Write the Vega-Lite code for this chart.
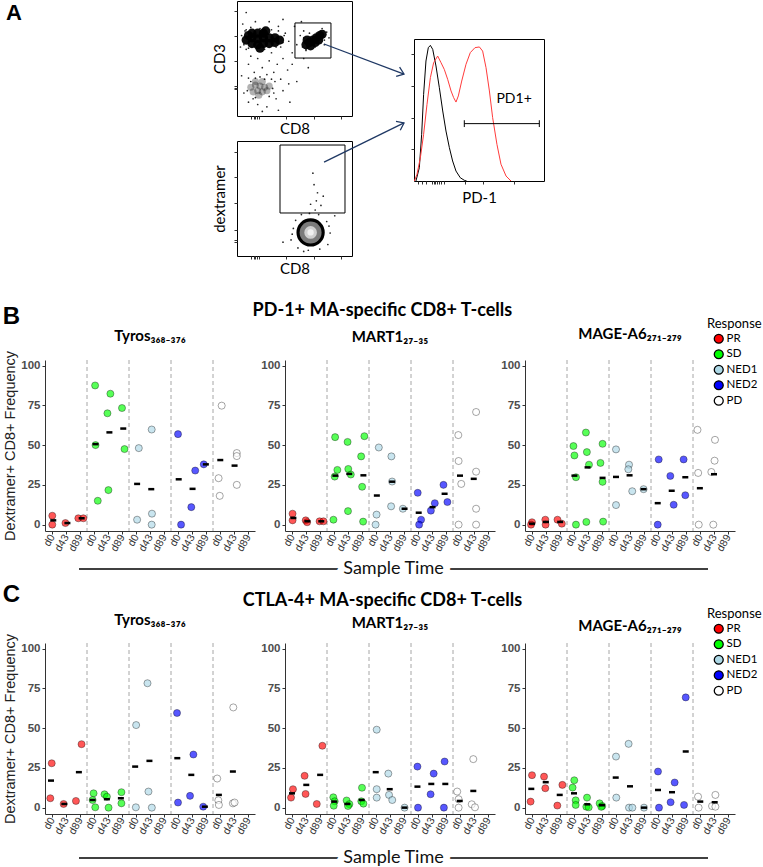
{
"$schema": "https://vega.github.io/schema/vega-lite/v6.json",
"background": "white",
"padding": {"left": 2, "top": 0, "right": 0, "bottom": 0},
"config": {"view": {"stroke": null}, "axis": {"grid": false, "domainColor": "#333", "tickColor": "#333"}, "title": {"color": "black"}},
"datasets": {
"seps": [{"x": 2.5}, {"x": 5.5}, {"x": 8.5}, {"x": 11.5}],
"pts": [
{"p":"B1","r":"PR","x":0.02,"v":5.6},{"p":"B1","r":"PR","x":0.02,"v":0},{"p":"B1","r":"PR","x":0.96,"v":1},{"p":"B1","r":"PR","x":1.88,"v":4},{"p":"B1","r":"PR","x":2.24,"v":4},
{"p":"B1","r":"SD","x":3.08,"v":87.5},{"p":"B1","r":"SD","x":3.11,"v":50},{"p":"B1","r":"SD","x":3.27,"v":15},{"p":"B1","r":"SD","x":4.17,"v":82.3},{"p":"B1","r":"SD","x":3.96,"v":70},{"p":"B1","r":"SD","x":4.03,"v":21.7},{"p":"B1","r":"SD","x":5.0,"v":73.3},{"p":"B1","r":"SD","x":5.18,"v":47.5},
{"p":"B1","r":"NED1","x":6.2,"v":48.1},{"p":"B1","r":"NED1","x":6.08,"v":3.1},{"p":"B1","r":"NED1","x":7.12,"v":59.8},{"p":"B1","r":"NED1","x":7.14,"v":6.9},{"p":"B1","r":"NED1","x":7.12,"v":0},
{"p":"B1","r":"NED2","x":9.0,"v":56.9},{"p":"B1","r":"NED2","x":9.22,"v":0},{"p":"B1","r":"NED2","x":9.95,"v":11},{"p":"B1","r":"NED2","x":10.23,"v":34},{"p":"B1","r":"NED2","x":10.84,"v":37.9},
{"p":"B1","r":"PD","x":12.12,"v":74.8},{"p":"B1","r":"PD","x":11.9,"v":29.2},{"p":"B1","r":"PD","x":11.98,"v":18.1},{"p":"B1","r":"PD","x":13.2,"v":45},{"p":"B1","r":"PD","x":13.2,"v":43.1},{"p":"B1","r":"PD","x":13.2,"v":25},
{"p":"B2","r":"PR","x":0.04,"v":6.9},{"p":"B2","r":"PR","x":0.04,"v":2.7},{"p":"B2","r":"PR","x":0.98,"v":2.7},{"p":"B2","r":"PR","x":1.08,"v":1.5},{"p":"B2","r":"PR","x":1.97,"v":2.1},{"p":"B2","r":"PR","x":2.25,"v":2.1},
{"p":"B2","r":"SD","x":3.08,"v":55},{"p":"B2","r":"SD","x":3.24,"v":34.4},{"p":"B2","r":"SD","x":3.05,"v":30.2},{"p":"B2","r":"SD","x":2.96,"v":3.1},{"p":"B2","r":"SD","x":3.97,"v":52},{"p":"B2","r":"SD","x":4.02,"v":35},{"p":"B2","r":"SD","x":4.2,"v":31.5},{"p":"B2","r":"SD","x":4.0,"v":8.5},{"p":"B2","r":"SD","x":5.17,"v":55.6},{"p":"B2","r":"SD","x":4.94,"v":42.9},{"p":"B2","r":"SD","x":5.01,"v":23.8},{"p":"B2","r":"SD","x":5.08,"v":1.9},
{"p":"B2","r":"NED1","x":6.2,"v":48.5},{"p":"B2","r":"NED1","x":6.04,"v":6.3},{"p":"B2","r":"NED1","x":5.97,"v":0},{"p":"B2","r":"NED1","x":7.1,"v":42.9},{"p":"B2","r":"NED1","x":7.15,"v":27.1},{"p":"B2","r":"NED1","x":7.08,"v":11.5},{"p":"B2","r":"NED1","x":7.92,"v":10},
{"p":"B2","r":"NED2","x":8.98,"v":20},{"p":"B2","r":"NED2","x":9.22,"v":3.1},{"p":"B2","r":"NED2","x":9.08,"v":0},{"p":"B2","r":"NED2","x":9.92,"v":8.8},{"p":"B2","r":"NED2","x":10.2,"v":13.5},{"p":"B2","r":"NED2","x":10.82,"v":25},{"p":"B2","r":"NED2","x":11.1,"v":14.2},
{"p":"B2","r":"PD","x":11.88,"v":56.3},{"p":"B2","r":"PD","x":11.9,"v":40},{"p":"B2","r":"PD","x":12.09,"v":25.6},{"p":"B2","r":"PD","x":11.9,"v":0},{"p":"B2","r":"PD","x":13.15,"v":70.8},{"p":"B2","r":"PD","x":13.15,"v":33.3},{"p":"B2","r":"PD","x":13.15,"v":10},{"p":"B2","r":"PD","x":13.15,"v":0},
{"p":"B3","r":"PR","x":0,"v":1.5},{"p":"B3","r":"PR","x":-0.07,"v":0},{"p":"B3","r":"PR","x":0.95,"v":3.1},{"p":"B3","r":"PR","x":0.97,"v":0},{"p":"B3","r":"PR","x":1.82,"v":3.1},{"p":"B3","r":"PR","x":2.13,"v":0.6},
{"p":"B3","r":"SD","x":2.96,"v":49.4},{"p":"B3","r":"SD","x":3.03,"v":43.5},{"p":"B3","r":"SD","x":3.14,"v":29.8},{"p":"B3","r":"SD","x":3.14,"v":0},{"p":"B3","r":"SD","x":3.85,"v":57.9},{"p":"B3","r":"SD","x":3.92,"v":45.6},{"p":"B3","r":"SD","x":4.07,"v":37.7},{"p":"B3","r":"SD","x":3.88,"v":1.7},{"p":"B3","r":"SD","x":5.04,"v":50.8},{"p":"B3","r":"SD","x":4.89,"v":38.8},{"p":"B3","r":"SD","x":5.04,"v":26.9},{"p":"B3","r":"SD","x":5.08,"v":1.9},
{"p":"B3","r":"NED1","x":6.0,"v":47.3},{"p":"B3","r":"NED1","x":6.0,"v":12.3},{"p":"B3","r":"NED1","x":6.93,"v":37.7},{"p":"B3","r":"NED1","x":6.88,"v":34.8},{"p":"B3","r":"NED1","x":7.16,"v":21},{"p":"B3","r":"NED1","x":7.97,"v":22.3},
{"p":"B3","r":"NED2","x":9.05,"v":41},{"p":"B3","r":"NED2","x":8.98,"v":0},{"p":"B3","r":"NED2","x":9.88,"v":30.6},{"p":"B3","r":"NED2","x":10.12,"v":12.5},{"p":"B3","r":"NED2","x":10.83,"v":41},{"p":"B3","r":"NED2","x":10.95,"v":18.5},
{"p":"B3","r":"PD","x":11.82,"v":59.6},{"p":"B3","r":"PD","x":11.87,"v":32.5},{"p":"B3","r":"PD","x":11.91,"v":0},{"p":"B3","r":"PD","x":13.07,"v":53.3},{"p":"B3","r":"PD","x":13.04,"v":40.2},{"p":"B3","r":"PD","x":12.81,"v":33.1},{"p":"B3","r":"PD","x":12.95,"v":0},
{"p":"C1","r":"PR","x":-0.02,"v":27.9},{"p":"C1","r":"PR","x":-0.12,"v":5.9},{"p":"C1","r":"PR","x":0.83,"v":2.3},{"p":"C1","r":"PR","x":2.11,"v":39.9},{"p":"C1","r":"PR","x":1.71,"v":4.2},
{"p":"C1","r":"SD","x":2.97,"v":9},{"p":"C1","r":"SD","x":2.9,"v":4.8},{"p":"C1","r":"SD","x":3.09,"v":0.2},{"p":"C1","r":"SD","x":3.75,"v":8.4},{"p":"C1","r":"SD","x":3.92,"v":6.9},{"p":"C1","r":"SD","x":4.04,"v":0},{"p":"C1","r":"SD","x":4.96,"v":9.7},{"p":"C1","r":"SD","x":4.96,"v":2.7},
{"p":"C1","r":"NED1","x":6.01,"v":51.9},{"p":"C1","r":"NED1","x":5.99,"v":0.2},{"p":"C1","r":"NED1","x":6.82,"v":78.2},{"p":"C1","r":"NED1","x":6.89,"v":10.1},{"p":"C1","r":"NED1","x":7.13,"v":0},
{"p":"C1","r":"NED2","x":8.93,"v":59.5},{"p":"C1","r":"NED2","x":9.0,"v":3.2},{"p":"C1","r":"NED2","x":10.1,"v":33.4},{"p":"C1","r":"NED2","x":9.86,"v":7.4},{"p":"C1","r":"NED2","x":10.8,"v":0.6},
{"p":"C1","r":"PD","x":11.8,"v":18.3},{"p":"C1","r":"PD","x":11.88,"v":4.6},{"p":"C1","r":"PD","x":11.92,"v":1.7},{"p":"C1","r":"PD","x":12.95,"v":63},{"p":"C1","r":"PD","x":12.92,"v":2.7},{"p":"C1","r":"PD","x":13.04,"v":3.2},
{"p":"C2","r":"PR","x":0.07,"v":11.6},{"p":"C2","r":"PR","x":-0.07,"v":6.3},{"p":"C2","r":"PR","x":0.9,"v":20},{"p":"C2","r":"PR","x":0.97,"v":8.6},{"p":"C2","r":"PR","x":2.17,"v":38.9},{"p":"C2","r":"PR","x":1.77,"v":2.3},
{"p":"C2","r":"SD","x":2.95,"v":6.5},{"p":"C2","r":"SD","x":3.05,"v":4},{"p":"C2","r":"SD","x":2.98,"v":1.2},{"p":"C2","r":"SD","x":3.9,"v":4.5},{"p":"C2","r":"SD","x":4.1,"v":2.2},{"p":"C2","r":"SD","x":4.0,"v":1},{"p":"C2","r":"SD","x":5.0,"v":12.5},{"p":"C2","r":"SD","x":4.95,"v":4},{"p":"C2","r":"SD","x":5.1,"v":2.5},
{"p":"C2","r":"NED1","x":6.05,"v":49},{"p":"C2","r":"NED1","x":6.05,"v":11.6},{"p":"C2","r":"NED1","x":6.05,"v":6.3},{"p":"C2","r":"NED1","x":6.88,"v":21.4},{"p":"C2","r":"NED1","x":6.93,"v":8},{"p":"C2","r":"NED1","x":7.16,"v":4.8},{"p":"C2","r":"NED1","x":8.04,"v":0},
{"p":"C2","r":"NED2","x":8.96,"v":25.8},{"p":"C2","r":"NED2","x":9.0,"v":0},{"p":"C2","r":"NED2","x":10.12,"v":21.4},{"p":"C2","r":"NED2","x":9.9,"v":8.4},{"p":"C2","r":"NED2","x":10.9,"v":29},{"p":"C2","r":"NED2","x":10.85,"v":0},
{"p":"C2","r":"PD","x":11.8,"v":10.1},{"p":"C2","r":"PD","x":11.9,"v":5.3},{"p":"C2","r":"PD","x":11.9,"v":0},{"p":"C2","r":"PD","x":12.95,"v":30.5},{"p":"C2","r":"PD","x":12.84,"v":2.1},{"p":"C2","r":"PD","x":13.07,"v":0.2},
{"p":"C3","r":"PR","x":-0.1,"v":3.8},{"p":"C3","r":"PR","x":0,"v":20.4},{"p":"C3","r":"PR","x":0.86,"v":19.5},{"p":"C3","r":"PR","x":0.95,"v":12.2},{"p":"C3","r":"PR","x":2.17,"v":14.3},{"p":"C3","r":"PR","x":1.81,"v":1.3},
{"p":"C3","r":"SD","x":3.02,"v":17.2},{"p":"C3","r":"SD","x":2.9,"v":12.6},{"p":"C3","r":"SD","x":3.12,"v":4.6},{"p":"C3","r":"SD","x":3.12,"v":1.7},{"p":"C3","r":"SD","x":3.93,"v":6.3},{"p":"C3","r":"SD","x":3.88,"v":0.6},{"p":"C3","r":"SD","x":4.05,"v":0.2},{"p":"C3","r":"SD","x":4.83,"v":2.7},{"p":"C3","r":"SD","x":5.02,"v":1},{"p":"C3","r":"SD","x":4.95,"v":0.5},
{"p":"C3","r":"NED1","x":6.0,"v":32.1},{"p":"C3","r":"NED1","x":6.02,"v":6.3},{"p":"C3","r":"NED1","x":6.9,"v":40.1},{"p":"C3","r":"NED1","x":6.93,"v":0},{"p":"C3","r":"NED1","x":7.17,"v":0},{"p":"C3","r":"NED1","x":8.0,"v":0},
{"p":"C3","r":"NED2","x":9.0,"v":22.7},{"p":"C3","r":"NED2","x":9.07,"v":0},{"p":"C3","r":"NED2","x":10.19,"v":15.8},{"p":"C3","r":"NED2","x":9.9,"v":3.4},{"p":"C3","r":"NED2","x":10.98,"v":69.3},{"p":"C3","r":"NED2","x":10.86,"v":1.7},
{"p":"C3","r":"PD","x":11.86,"v":6.9},{"p":"C3","r":"PD","x":11.9,"v":0},{"p":"C3","r":"PD","x":13.1,"v":8},{"p":"C3","r":"PD","x":12.86,"v":1},{"p":"C3","r":"PD","x":13.1,"v":0.6}
],
"means": [
{"p":"B1","x":0.09,"v":2.7},{"p":"B1","x":1.1,"v":1},{"p":"B1","x":2.12,"v":4},{"p":"B1","x":3.11,"v":50.6},{"p":"B1","x":4.1,"v":58},{"p":"B1","x":5.09,"v":60.4},{"p":"B1","x":6.08,"v":25.6},{"p":"B1","x":7.09,"v":22.3},{"p":"B1","x":9.05,"v":28.5},{"p":"B1","x":10.04,"v":22.5},{"p":"B1","x":10.99,"v":37.9},{"p":"B1","x":12.02,"v":40.6},{"p":"B1","x":13.04,"v":37.1},
{"p":"B2","x":0.1,"v":4.2},{"p":"B2","x":1.1,"v":2.1},{"p":"B2","x":2.09,"v":2.1},{"p":"B2","x":3.1,"v":30.8},{"p":"B2","x":4.09,"v":31.9},{"p":"B2","x":5.1,"v":31},{"p":"B2","x":6.06,"v":18.3},{"p":"B2","x":7.15,"v":27},{"p":"B2","x":8.04,"v":10},{"p":"B2","x":9.05,"v":7.5},{"p":"B2","x":10.04,"v":11},{"p":"B2","x":10.9,"v":19.4},{"p":"B2","x":12.0,"v":30.8},{"p":"B2","x":12.98,"v":28.8},
{"p":"B3","x":0,"v":0.6},{"p":"B3","x":1.0,"v":1.7},{"p":"B3","x":2.01,"v":1.7},{"p":"B3","x":3.03,"v":30.8},{"p":"B3","x":3.97,"v":36},{"p":"B3","x":5.04,"v":29.4},{"p":"B3","x":6.0,"v":30},{"p":"B3","x":6.97,"v":31},{"p":"B3","x":7.97,"v":22.3},{"p":"B3","x":8.98,"v":13.5},{"p":"B3","x":9.98,"v":21.3},{"p":"B3","x":10.95,"v":29.8},{"p":"B3","x":11.99,"v":22.9},{"p":"B3","x":13.0,"v":31.7},
{"p":"C1","x":-0.07,"v":17},{"p":"C1","x":0.88,"v":2.3},{"p":"C1","x":1.92,"v":22.3},{"p":"C1","x":2.9,"v":4.8},{"p":"C1","x":3.92,"v":5.3},{"p":"C1","x":4.92,"v":5.9},{"p":"C1","x":5.94,"v":25.8},{"p":"C1","x":6.96,"v":29.4},{"p":"C1","x":8.95,"v":31.1},{"p":"C1","x":9.95,"v":20.6},{"p":"C1","x":10.92,"v":0.6},{"p":"C1","x":11.92,"v":8},{"p":"C1","x":12.92,"v":22.7},
{"p":"C2","x":0.0,"v":9},{"p":"C2","x":1.02,"v":14.3},{"p":"C2","x":2.01,"v":20.6},{"p":"C2","x":3.02,"v":3.8},{"p":"C2","x":3.95,"v":2.3},{"p":"C2","x":4.98,"v":4.8},{"p":"C2","x":5.98,"v":22.3},{"p":"C2","x":6.98,"v":11.6},{"p":"C2","x":8.04,"v":0},{"p":"C2","x":8.96,"v":13.2},{"p":"C2","x":9.95,"v":14.9},{"p":"C2","x":10.95,"v":14.9},{"p":"C2","x":11.98,"v":4.2},{"p":"C2","x":12.95,"v":10.5},
{"p":"C3","x":-0.05,"v":11.8},{"p":"C3","x":0.98,"v":16},{"p":"C3","x":1.98,"v":8},{"p":"C3","x":3.0,"v":9},{"p":"C3","x":3.95,"v":2.1},{"p":"C3","x":5.0,"v":1.5},{"p":"C3","x":5.98,"v":18.9},{"p":"C3","x":7.0,"v":13.4},{"p":"C3","x":8.0,"v":0},{"p":"C3","x":9.0,"v":11.1},{"p":"C3","x":10.0,"v":9.7},{"p":"C3","x":10.98,"v":35.3},{"p":"C3","x":12.02,"v":3.8},{"p":"C3","x":13.05,"v":3.4}
],
"flow1": [
{"k":"core","x":8,"y":66},{"k":"core","x":13,"y":63},{"k":"core","x":13,"y":68},{"k":"core","x":13,"y":72},{"k":"core","x":18,"y":62},{"k":"core","x":18,"y":67},{"k":"core","x":18,"y":72},{"k":"core","x":23,"y":63},{"k":"core","x":23,"y":68},{"k":"core","x":23,"y":72},{"k":"core","x":28,"y":63},{"k":"core","x":28,"y":68},{"k":"core","x":33,"y":64},{"k":"core","x":33,"y":68},{"k":"core","x":37,"y":66},{"k":"core","x":10,"y":70},{"k":"core","x":25,"y":74},{"k":"core","x":20,"y":59},
{"k":"core","x":60,"y":62},{"k":"core","x":63,"y":64},{"k":"core","x":66,"y":66},{"k":"core","x":69,"y":68},{"k":"core","x":72,"y":70},{"k":"core","x":64,"y":61},{"k":"core","x":68,"y":64},{"k":"core","x":61,"y":66},{"k":"core","x":71,"y":66},{"k":"core","x":74,"y":71},
{"k":"mid","x":12,"y":25},{"k":"mid","x":16,"y":27},{"k":"mid","x":20,"y":26},{"k":"mid","x":24,"y":25},{"k":"mid","x":28,"y":26},{"k":"mid","x":14,"y":21},{"k":"mid","x":18,"y":22},{"k":"mid","x":22,"y":21},{"k":"mid","x":26,"y":22},{"k":"mid","x":16,"y":30},{"k":"mid","x":22,"y":30},{"k":"mid","x":19,"y":18},
{"k":"dot","x":5,"y":80},{"k":"dot","x":8,"y":58},{"k":"dot","x":12,"y":52},{"k":"dot","x":30,"y":55},{"k":"dot","x":38,"y":60},{"k":"dot","x":42,"y":72},{"k":"dot","x":45,"y":65},{"k":"dot","x":40,"y":50},{"k":"dot","x":35,"y":45},{"k":"dot","x":28,"y":48},{"k":"dot","x":18,"y":50},{"k":"dot","x":10,"y":45},{"k":"dot","x":22,"y":42},{"k":"dot","x":32,"y":38},{"k":"dot","x":15,"y":38},{"k":"dot","x":38,"y":32},{"k":"dot","x":44,"y":40},{"k":"dot","x":48,"y":55},{"k":"dot","x":52,"y":62},{"k":"dot","x":55,"y":70},{"k":"dot","x":50,"y":78},{"k":"dot","x":36,"y":78},{"k":"dot","x":28,"y":82},{"k":"dot","x":16,"y":82},{"k":"dot","x":8,"y":75},{"k":"dot","x":4,"y":35},{"k":"dot","x":6,"y":20},{"k":"dot","x":10,"y":12},{"k":"dot","x":18,"y":10},{"k":"dot","x":26,"y":8},{"k":"dot","x":34,"y":15},{"k":"dot","x":40,"y":22},{"k":"dot","x":45,"y":28},{"k":"dot","x":36,"y":5},{"k":"dot","x":22,"y":4},{"k":"dot","x":12,"y":30},{"k":"dot","x":30,"y":32},{"k":"dot","x":8,"y":90},{"k":"dot","x":58,"y":50},{"k":"dot","x":62,"y":42},{"k":"dot","x":46,"y":12},{"k":"dot","x":52,"y":30},{"k":"dot","x":3,"y":60},{"k":"dot","x":48,"y":45},{"k":"dot","x":26,"y":36},{"k":"dot","x":20,"y":34},{"k":"dot","x":32,"y":20},{"k":"dot","x":16,"y":16},{"k":"dot","x":40,"y":84},{"k":"dot","x":56,"y":82},{"k":"dot","x":60,"y":58},{"k":"dot","x":76,"y":62},{"k":"dot","x":80,"y":68},{"k":"dot","x":74,"y":76},{"k":"dot","x":58,"y":74},
{"k":"dot","x":4,"y":70},{"k":"dot","x":6,"y":62},{"k":"dot","x":7,"y":74},{"k":"dot","x":40,"y":64},{"k":"dot","x":41,"y":70},{"k":"dot","x":36,"y":74},{"k":"dot","x":30,"y":75},{"k":"dot","x":20,"y":76},{"k":"dot","x":12,"y":77},{"k":"dot","x":10,"y":59},{"k":"dot","x":24,"y":58},{"k":"dot","x":34,"y":60},{"k":"dot","x":57,"y":60},{"k":"dot","x":58,"y":68},{"k":"dot","x":63,"y":72},{"k":"dot","x":76,"y":66},{"k":"dot","x":78,"y":73},{"k":"dot","x":68,"y":60},{"k":"dot","x":60,"y":57},{"k":"dot","x":9,"y":22},{"k":"dot","x":10,"y":33},{"k":"dot","x":16,"y":33},{"k":"dot","x":24,"y":32},{"k":"dot","x":31,"y":24},{"k":"dot","x":28,"y":17},{"k":"dot","x":14,"y":15},{"k":"dot","x":33,"y":30}
],
"flow2": [
{"k":"blob","x":64,"y":20.5},
{"k":"dot","x":47,"y":14},{"k":"dot","x":49,"y":24},{"k":"dot","x":51,"y":31},{"k":"dot","x":56,"y":36},{"k":"dot","x":63,"y":37},{"k":"dot","x":71,"y":36},{"k":"dot","x":78,"y":30},{"k":"dot","x":81,"y":20},{"k":"dot","x":79,"y":10},{"k":"dot","x":72,"y":6},{"k":"dot","x":62,"y":5},{"k":"dot","x":53,"y":7},{"k":"dot","x":48,"y":19},{"k":"dot","x":80,"y":26},{"k":"dot","x":58,"y":4},{"k":"dot","x":68,"y":40},{"k":"dot","x":69,"y":48},{"k":"dot","x":70,"y":55},{"k":"dot","x":67,"y":62},{"k":"dot","x":73,"y":44},{"k":"dot","x":64,"y":45},{"k":"dot","x":66,"y":72},{"k":"dot","x":85,"y":35},{"k":"dot","x":40,"y":12},{"k":"dot","x":75,"y":52}
],
"gate1": [{"x":50.4,"x2":81.7,"y":50.4,"y2":80.9}],
"gate2": [{"x":37.4,"x2":93.9,"y":37.4,"y2":96.5}],
"arrow1": [{"x":75.7,"y":62.6,"x2":145.2,"y2":36.5}],
"head1": [{"x":145.2,"y":36.5}],
"arrow2": [{"x":75.7,"y":81.7,"x2":145.2,"y2":115.7}],
"head2": [{"x":145.2,"y":115.7}],
"hist": [
{"s":"ctrl","x":1.5,"y":0},{"s":"ctrl","x":4.1,"y":9.4},{"s":"ctrl","x":5.9,"y":32.9},{"s":"ctrl","x":7.4,"y":61},{"s":"ctrl","x":9.2,"y":84.5},{"s":"ctrl","x":11,"y":93.9},{"s":"ctrl","x":12.6,"y":95.5},{"s":"ctrl","x":14.4,"y":92.7},{"s":"ctrl","x":16.9,"y":81},{"s":"ctrl","x":19.5,"y":65.7},{"s":"ctrl","x":22.1,"y":49.3},{"s":"ctrl","x":24.6,"y":35.2},{"s":"ctrl","x":27.2,"y":23.5},{"s":"ctrl","x":29.7,"y":14.1},{"s":"ctrl","x":32.3,"y":7},{"s":"ctrl","x":35.6,"y":2.3},{"s":"ctrl","x":38.7,"y":0.5},{"s":"ctrl","x":40.5,"y":0},
{"s":"stain","x":0.3,"y":0},{"s":"stain","x":2.3,"y":4.7},{"s":"stain","x":4.9,"y":16.4},{"s":"stain","x":7.4,"y":32.9},{"s":"stain","x":10,"y":54},{"s":"stain","x":12.6,"y":72.8},{"s":"stain","x":15.1,"y":83.3},{"s":"stain","x":18.2,"y":88},{"s":"stain","x":20.8,"y":83.3},{"s":"stain","x":23.3,"y":78.6},{"s":"stain","x":25.9,"y":71.6},{"s":"stain","x":28.5,"y":63.4},{"s":"stain","x":30.5,"y":58.7},{"s":"stain","x":32.3,"y":55.6},{"s":"stain","x":34.1,"y":59.9},{"s":"stain","x":36.7,"y":70.4},{"s":"stain","x":40,"y":82.2},{"s":"stain","x":43.3,"y":90.4},{"s":"stain","x":46.9,"y":93.9},{"s":"stain","x":50.3,"y":94.4},{"s":"stain","x":52.8,"y":91.5},{"s":"stain","x":55.4,"y":79.8},{"s":"stain","x":58,"y":63.4},{"s":"stain","x":60.5,"y":44.6},{"s":"stain","x":63.8,"y":25.8},{"s":"stain","x":66.9,"y":11.8},{"s":"stain","x":70.8,"y":3.5},{"s":"stain","x":74.6,"y":0}
],
"hgate": [{"x":38.7,"x2":96.4,"y":40.4}],
"hcaps": [{"x":38.7,"y":38,"y2":42.8},{"x":96.4,"y":38,"y2":42.8}],
"hlabel": [{"x":77,"y":57.5,"t":"PD1+"}]
},
"vconcat": [
{
"hconcat": [
{"width": 165, "height": 40, "title": {"text": "A", "font": "Liberation Sans", "fontSize": 22, "fontWeight": "bold", "anchor": "start", "frame": "group", "offset": -24, "dx": -39}, "data": {"values": []}, "mark": "point", "encoding": {}},
{"vconcat": [
{"width": 115, "height": 115, "view": {"stroke": "black", "strokeWidth": 1},
 "encoding": {
  "x": {"field": "x", "type": "quantitative", "scale": {"domain": [0, 100], "nice": false}, "axis": {"title": "CD8", "labels": false, "values": [12.5, 14.5, 16, 17.5, 19, 42.6, 67, 90.4], "tickSize": 3, "domain": false, "tickColor": "#333", "titleFont": "Lato", "titleFontSize": 15, "titleFontWeight": "normal", "titlePadding": 2}},
  "y": {"field": "y", "type": "quantitative", "scale": {"domain": [0, 100], "nice": false}, "axis": {"title": "CD3", "labels": false, "values": [23.5, 24.5, 26.1, 47.8, 69.6, 91.3], "tickSize": 3, "domain": false, "tickColor": "#333", "titleFont": "Lato", "titleFontSize": 15, "titleFontWeight": "normal", "titlePadding": 6}}
 },
 "layer": [
  {"data": {"name": "flow1"}, "transform": [{"filter": "datum.k=='dot'"}], "mark": {"type": "circle", "size": 3, "color": "black", "opacity": 0.85}},
  {"data": {"name": "flow1"}, "transform": [{"filter": "datum.k=='mid'"}], "mark": {"type": "circle", "size": 50, "color": "black", "opacity": 0.3}},
  {"data": {"name": "flow1"}, "transform": [{"filter": "datum.k=='core'"}], "mark": {"type": "circle", "size": 85, "color": "black", "opacity": 0.95}},
  {"data": {"name": "gate1"}, "mark": {"type": "rect", "fill": "transparent", "stroke": "black", "strokeWidth": 1}, "encoding": {"x2": {"field": "x2"}, "y2": {"field": "y2"}}},
  {"data": {"name": "arrow1"}, "mark": {"type": "rule", "color": "#1F3864", "strokeWidth": 1.3}, "encoding": {"x2": {"field": "x2"}, "y2": {"field": "y2"}}},
  {"data": {"name": "head1"}, "mark": {"type": "point", "shape": "M-1,-0.75L0,0L-1,0.75", "filled": false, "stroke": "#1F3864", "strokeWidth": 1.3, "size": 170, "angle": 20.6, "opacity": 1}}
 ]
},
{"width": 115, "height": 115, "view": {"stroke": "black", "strokeWidth": 1},
 "encoding": {
  "x": {"field": "x", "type": "quantitative", "scale": {"domain": [0, 100], "nice": false}, "axis": {"title": "CD8", "labels": false, "values": [12.5, 14.5, 16, 17.5, 19, 42.6, 67, 90.4], "tickSize": 3, "domain": false, "tickColor": "#333", "titleFont": "Lato", "titleFontSize": 15, "titleFontWeight": "normal", "titlePadding": 2}},
  "y": {"field": "y", "type": "quantitative", "scale": {"domain": [0, 100], "nice": false}, "axis": {"title": "dextramer", "labels": false, "values": [12.5, 13.9, 22.6, 45.8, 69, 90.7], "tickSize": 3, "domain": false, "tickColor": "#333", "titleFont": "Lato", "titleFontSize": 15, "titleFontWeight": "normal", "titlePadding": 6}}
 },
 "layer": [
  {"data": {"name": "flow2"}, "transform": [{"filter": "datum.k=='dot'"}], "mark": {"type": "circle", "size": 3, "color": "black", "opacity": 0.85}},
  {"data": {"name": "flow2"}, "transform": [{"filter": "datum.k=='blob'"}], "mark": {"type": "circle", "size": 800, "color": "black", "opacity": 1}},
  {"data": {"name": "flow2"}, "transform": [{"filter": "datum.k=='blob'"}], "mark": {"type": "circle", "size": 480, "color": "#7a7a7a", "opacity": 1}},
  {"data": {"name": "flow2"}, "transform": [{"filter": "datum.k=='blob'"}], "mark": {"type": "circle", "size": 160, "color": "#cfcfcf", "opacity": 1}},
  {"data": {"name": "flow2"}, "transform": [{"filter": "datum.k=='blob'"}], "mark": {"type": "circle", "size": 40, "color": "#f0f0f0", "opacity": 1}},
  {"data": {"name": "gate2"}, "mark": {"type": "rect", "fill": "transparent", "stroke": "black", "strokeWidth": 1}, "encoding": {"x2": {"field": "x2"}, "y2": {"field": "y2"}}},
  {"data": {"name": "arrow2"}, "mark": {"type": "rule", "color": "#1F3864", "strokeWidth": 1.3}, "encoding": {"x2": {"field": "x2"}, "y2": {"field": "y2"}}},
  {"data": {"name": "head2"}, "mark": {"type": "point", "shape": "M-1,-0.75L0,0L-1,0.75", "filled": false, "stroke": "#1F3864", "strokeWidth": 1.3, "size": 170, "angle": -26, "opacity": 1}}
 ]
}
], "spacing": -19},
{"vconcat": [
{"width": 130, "height": 37, "data": {"values": []}, "mark": "point", "encoding": {}},
{"width": 130, "height": 142, "view": {"stroke": "black", "strokeWidth": 1},
 "encoding": {
  "x": {"field": "x", "type": "quantitative", "scale": {"domain": [0, 100], "nice": false}, "axis": {"title": "PD-1", "labels": false, "values": [3, 6, 9, 13.5, 15, 16.5, 18, 19.5, 21, 23, 39, 53, 77], "tickSize": 3, "domain": false, "tickColor": "#333", "titleFont": "Lato", "titleFontSize": 15, "titleFontWeight": "normal", "titlePadding": 6}},
  "y": {"field": "y", "type": "quantitative", "scale": {"domain": [0, 100], "nice": false}, "axis": {"title": null, "labels": false, "values": [22.3, 44.6, 66.9, 89.2], "tickSize": 3, "domain": false, "tickColor": "#333"}}
 },
 "layer": [
  {"data": {"name": "hist"}, "transform": [{"filter": "datum.s=='ctrl'"}], "mark": {"type": "line", "color": "black", "strokeWidth": 1}},
  {"data": {"name": "hist"}, "transform": [{"filter": "datum.s=='stain'"}], "mark": {"type": "line", "color": "#FF3B3B", "strokeWidth": 1}},
  {"data": {"name": "hgate"}, "mark": {"type": "rule", "color": "black", "strokeWidth": 1}, "encoding": {"x2": {"field": "x2"}}},
  {"data": {"name": "hcaps"}, "mark": {"type": "rule", "color": "black", "strokeWidth": 1}, "encoding": {"y2": {"field": "y2"}}},
  {"data": {"name": "hlabel"}, "mark": {"type": "text", "font": "Lato", "fontSize": 14, "color": "black"}, "encoding": {"text": {"field": "t"}}}
 ]
}
], "spacing": 0}
], "spacing": 2
},
{
"vconcat": [
{
"vconcat": [
{
"title": {"text": "B", "font": "Liberation Sans", "fontSize": 24, "fontWeight": "bold", "anchor": "start", "offset": -27},
"vconcat": [
{
"title": {"text": "PD-1+ MA-specific CD8+ T-cells", "font": "Lato", "fontSize": 18, "fontWeight": "bold", "anchor": "middle", "offset": -2},
"hconcat": [
{"width": 210, "height": 171, "title": {"text": "Tyros₃₆₈₋₃₇₆", "font": "Lato", "fontSize": 15, "fontWeight": "bold", "frame": "group", "offset": 6},
 "encoding": {"x": {"field": "x", "type": "quantitative", "scale": {"domain": [-0.5, 14.5], "nice": false, "zero": false}, "axis": {"title": null, "values": [0,1,2,3,4,5,6,7,8,9,10,11,12,13,14], "labelExpr": "['d0','d43','d89'][datum.value % 3]", "labelAngle": -60, "labelFont": "Liberation Sans", "labelFontSize": 10.5, "labelColor": "#333", "labelPadding": 1, "tickSize": 3, "labelOverlap": false, "labelBound": false, "labelFlush": false}}},
 "layer": [
  {"data": {"name": "seps"}, "mark": {"type": "rule", "color": "#A6A6A6", "strokeDash": [4, 3], "strokeWidth": 1}, "encoding": {}},
  {"data": {"name": "pts"}, "transform": [{"filter": "datum.p=='B1'"}], "mark": {"type": "circle", "size": 50, "opacity": 1, "fillOpacity": 0.66, "stroke": "black", "strokeOpacity": 0.5, "strokeWidth": 0.7},
   "encoding": {"y": {"field": "v", "type": "quantitative", "scale": {"domain": [-4, 103.5], "nice": false, "zero": false}, "axis": {"title": "Dextramer+ CD8+ Frequency", "values": [0,25,50,75,100], "labelFont": "Liberation Sans", "labelFontSize": 11.5, "labelFontWeight": "bold", "labelColor": "#4D4D4D", "labelPadding": 2, "tickSize": 3, "titleFont": "Liberation Sans", "titleFontSize": 14.5, "titleFontWeight": "normal", "titleColor": "#222", "titlePadding": 3}},
    "color": {"field": "r", "type": "nominal", "scale": {"domain": ["PR","SD","NED1","NED2","PD"], "range": ["#FF0000","#00FF00","#ADD8E6","#0000FF","#FFFFFF"]}, "legend": null}}},
  {"data": {"name": "means"}, "transform": [{"filter": "datum.p=='B1'"}], "mark": {"type": "tick", "orient": "horizontal", "size": 6, "thickness": 2.5, "color": "black", "opacity": 1},
   "encoding": {"y": {"field": "v", "type": "quantitative", "scale": {"domain": [-4, 103.5], "nice": false, "zero": false}, "axis": {"title": "Dextramer+ CD8+ Frequency", "values": [0,25,50,75,100], "labelFont": "Liberation Sans", "labelFontSize": 11.5, "labelFontWeight": "bold", "labelColor": "#4D4D4D", "labelPadding": 2, "tickSize": 3, "titleFont": "Liberation Sans", "titleFontSize": 14.5, "titleFontWeight": "normal", "titleColor": "#222", "titlePadding": 3}}}}
 ]
},
{"width": 210, "height": 171, "title": {"text": "MART1₂₇₋₃₅", "font": "Lato", "fontSize": 15, "fontWeight": "bold", "frame": "group", "offset": 15},
 "encoding": {"x": {"field": "x", "type": "quantitative", "scale": {"domain": [-0.5, 14.5], "nice": false, "zero": false}, "axis": {"title": null, "values": [0,1,2,3,4,5,6,7,8,9,10,11,12,13,14], "labelExpr": "['d0','d43','d89'][datum.value % 3]", "labelAngle": -60, "labelFont": "Liberation Sans", "labelFontSize": 10.5, "labelColor": "#333", "labelPadding": 1, "tickSize": 3, "labelOverlap": false, "labelBound": false, "labelFlush": false}}},
 "layer": [
  {"data": {"name": "seps"}, "mark": {"type": "rule", "color": "#A6A6A6", "strokeDash": [4, 3], "strokeWidth": 1}, "encoding": {}},
  {"data": {"name": "pts"}, "transform": [{"filter": "datum.p=='B2'"}], "mark": {"type": "circle", "size": 50, "opacity": 1, "fillOpacity": 0.66, "stroke": "black", "strokeOpacity": 0.5, "strokeWidth": 0.7},
   "encoding": {"y": {"field": "v", "type": "quantitative", "scale": {"domain": [-4, 103.5], "nice": false, "zero": false}, "axis": {"title": null, "values": [0,25,50,75,100], "labelFont": "Liberation Sans", "labelFontSize": 11.5, "labelFontWeight": "bold", "labelColor": "#4D4D4D", "labelPadding": 2, "tickSize": 3}},
    "color": {"field": "r", "type": "nominal", "scale": {"domain": ["PR","SD","NED1","NED2","PD"], "range": ["#FF0000","#00FF00","#ADD8E6","#0000FF","#FFFFFF"]}, "legend": null}}},
  {"data": {"name": "means"}, "transform": [{"filter": "datum.p=='B2'"}], "mark": {"type": "tick", "orient": "horizontal", "size": 6, "thickness": 2.5, "color": "black", "opacity": 1},
   "encoding": {"y": {"field": "v", "type": "quantitative", "scale": {"domain": [-4, 103.5], "nice": false, "zero": false}, "axis": {"title": null, "values": [0,25,50,75,100], "labelFont": "Liberation Sans", "labelFontSize": 11.5, "labelFontWeight": "bold", "labelColor": "#4D4D4D", "labelPadding": 2, "tickSize": 3}}}}
 ]
},
{"width": 210, "height": 171, "title": {"text": "MAGE-A6₂₇₁₋₂₇₉", "font": "Lato", "fontSize": 15, "fontWeight": "bold", "frame": "group", "offset": -24},
 "encoding": {"x": {"field": "x", "type": "quantitative", "scale": {"domain": [-0.5, 14.5], "nice": false, "zero": false}, "axis": {"title": null, "values": [0,1,2,3,4,5,6,7,8,9,10,11,12,13,14], "labelExpr": "['d0','d43','d89'][datum.value % 3]", "labelAngle": -60, "labelFont": "Liberation Sans", "labelFontSize": 10.5, "labelColor": "#333", "labelPadding": 1, "tickSize": 3, "labelOverlap": false, "labelBound": false, "labelFlush": false}}},
 "layer": [
  {"data": {"name": "seps"}, "mark": {"type": "rule", "color": "#A6A6A6", "strokeDash": [4, 3], "strokeWidth": 1}, "encoding": {}},
  {"data": {"name": "pts"}, "transform": [{"filter": "datum.p=='B3'"}], "mark": {"type": "circle", "size": 50, "opacity": 1, "fillOpacity": 0.66, "stroke": "black", "strokeOpacity": 0.5, "strokeWidth": 0.7},
   "encoding": {"y": {"field": "v", "type": "quantitative", "scale": {"domain": [-4, 103.5], "nice": false, "zero": false}, "axis": {"title": null, "values": [0,25,50,75,100], "labelFont": "Liberation Sans", "labelFontSize": 11.5, "labelFontWeight": "bold", "labelColor": "#4D4D4D", "labelPadding": 2, "tickSize": 3}},
    "color": {"field": "r", "type": "nominal", "scale": {"domain": ["PR","SD","NED1","NED2","PD"], "range": ["#FF0000","#00FF00","#ADD8E6","#0000FF","#FFFFFF"]},
     "legend": {"title": "Response", "orient": "none", "legendX": 182, "legendY": -42, "padding": 0, "titleFont": "Lato", "titleFontSize": 13, "titleFontWeight": "normal", "titleColor": "black", "titlePadding": 2, "labelFont": "Lato", "labelFontSize": 11.5, "labelColor": "black", "labelOffset": 2, "symbolType": "circle", "symbolSize": 80, "symbolStrokeColor": "black", "symbolStrokeWidth": 1.3, "symbolOffset": 6, "rowPadding": 0.5, "symbolOpacity": 1,
      "encode": {"symbols": {"update": {"fillOpacity": {"value": 1}, "stroke": {"value": "black"}, "strokeOpacity": {"value": 1}}}}}}}},
  {"data": {"name": "means"}, "transform": [{"filter": "datum.p=='B3'"}], "mark": {"type": "tick", "orient": "horizontal", "size": 6, "thickness": 2.5, "color": "black", "opacity": 1},
   "encoding": {"y": {"field": "v", "type": "quantitative", "scale": {"domain": [-4, 103.5], "nice": false, "zero": false}, "axis": {"title": null, "values": [0,25,50,75,100], "labelFont": "Liberation Sans", "labelFontSize": 11.5, "labelFontWeight": "bold", "labelColor": "#4D4D4D", "labelPadding": 2, "tickSize": 3}}}}
 ]
}
], "spacing": 5, "resolve": {"legend": {"color": "independent"}}
}
]
},
{"hconcat": [
 {"width": 27, "height": 10, "data": {"values": []}, "mark": "point", "encoding": {}},
 {"width": 629, "height": 10, "data": {"values": [{"t": "Sample Time"}]},
  "layer": [
   {"mark": {"type": "rule", "color": "black", "strokeWidth": 1.5}, "encoding": {"x": {"datum": 0, "type": "quantitative", "scale": {"domain": [0, 1]}, "axis": null}, "x2": {"datum": 1}, "y": {"datum": 0.5, "type": "quantitative", "scale": {"domain": [0, 1]}, "axis": null}}},
   {"mark": {"type": "text", "font": "Lato", "fontSize": 18, "fill": "white", "stroke": "white", "strokeWidth": 14, "baseline": "middle"}, "encoding": {"x": {"datum": 0.5, "type": "quantitative"}, "y": {"datum": 0.5, "type": "quantitative"}, "text": {"field": "t"}}},
   {"mark": {"type": "text", "font": "Lato", "fontSize": 18, "color": "#111", "baseline": "middle"}, "encoding": {"x": {"datum": 0.5, "type": "quantitative"}, "y": {"datum": 0.5, "type": "quantitative"}, "text": {"field": "t"}}}
  ]
 }
], "spacing": 6}
], "spacing": 7
},
{
"vconcat": [
{
"title": {"text": "C", "font": "Liberation Sans", "fontSize": 24, "fontWeight": "bold", "anchor": "start", "offset": -15},
"vconcat": [
{
"title": {"text": "CTLA-4+ MA-specific CD8+ T-cells", "font": "Lato", "fontSize": 18, "fontWeight": "bold", "anchor": "middle", "offset": -2},
"hconcat": [
{"width": 210, "height": 171, "title": {"text": "Tyros₃₆₈₋₃₇₆", "font": "Lato", "fontSize": 15, "fontWeight": "bold", "frame": "group", "offset": 5},
 "encoding": {"x": {"field": "x", "type": "quantitative", "scale": {"domain": [-0.5, 14.5], "nice": false, "zero": false}, "axis": {"title": null, "values": [0,1,2,3,4,5,6,7,8,9,10,11,12,13,14], "labelExpr": "['d0','d43','d89'][datum.value % 3]", "labelAngle": -60, "labelFont": "Liberation Sans", "labelFontSize": 10.5, "labelColor": "#333", "labelPadding": 1, "tickSize": 3, "labelOverlap": false, "labelBound": false, "labelFlush": false}}},
 "layer": [
  {"data": {"name": "seps"}, "mark": {"type": "rule", "color": "#A6A6A6", "strokeDash": [4, 3], "strokeWidth": 1}, "encoding": {}},
  {"data": {"name": "pts"}, "transform": [{"filter": "datum.p=='C1'"}], "mark": {"type": "circle", "size": 50, "opacity": 1, "fillOpacity": 0.66, "stroke": "black", "strokeOpacity": 0.5, "strokeWidth": 0.7},
   "encoding": {"y": {"field": "v", "type": "quantitative", "scale": {"domain": [-4, 103.5], "nice": false, "zero": false}, "axis": {"title": "Dextramer+ CD8+ Frequency", "values": [0,25,50,75,100], "labelFont": "Liberation Sans", "labelFontSize": 11.5, "labelFontWeight": "bold", "labelColor": "#4D4D4D", "labelPadding": 2, "tickSize": 3, "titleFont": "Liberation Sans", "titleFontSize": 14.5, "titleFontWeight": "normal", "titleColor": "#222", "titlePadding": 3}},
    "color": {"field": "r", "type": "nominal", "scale": {"domain": ["PR","SD","NED1","NED2","PD"], "range": ["#FF0000","#00FF00","#ADD8E6","#0000FF","#FFFFFF"]}, "legend": null}}},
  {"data": {"name": "means"}, "transform": [{"filter": "datum.p=='C1'"}], "mark": {"type": "tick", "orient": "horizontal", "size": 6, "thickness": 2.5, "color": "black", "opacity": 1},
   "encoding": {"y": {"field": "v", "type": "quantitative", "scale": {"domain": [-4, 103.5], "nice": false, "zero": false}, "axis": {"title": "Dextramer+ CD8+ Frequency", "values": [0,25,50,75,100], "labelFont": "Liberation Sans", "labelFontSize": 11.5, "labelFontWeight": "bold", "labelColor": "#4D4D4D", "labelPadding": 2, "tickSize": 3, "titleFont": "Liberation Sans", "titleFontSize": 14.5, "titleFontWeight": "normal", "titleColor": "#222", "titlePadding": 3}}}}
 ]
},
{"width": 210, "height": 171, "title": {"text": "MART1₂₇₋₃₅", "font": "Lato", "fontSize": 15, "fontWeight": "bold", "frame": "group", "offset": 12},
 "encoding": {"x": {"field": "x", "type": "quantitative", "scale": {"domain": [-0.5, 14.5], "nice": false, "zero": false}, "axis": {"title": null, "values": [0,1,2,3,4,5,6,7,8,9,10,11,12,13,14], "labelExpr": "['d0','d43','d89'][datum.value % 3]", "labelAngle": -60, "labelFont": "Liberation Sans", "labelFontSize": 10.5, "labelColor": "#333", "labelPadding": 1, "tickSize": 3, "labelOverlap": false, "labelBound": false, "labelFlush": false}}},
 "layer": [
  {"data": {"name": "seps"}, "mark": {"type": "rule", "color": "#A6A6A6", "strokeDash": [4, 3], "strokeWidth": 1}, "encoding": {}},
  {"data": {"name": "pts"}, "transform": [{"filter": "datum.p=='C2'"}], "mark": {"type": "circle", "size": 50, "opacity": 1, "fillOpacity": 0.66, "stroke": "black", "strokeOpacity": 0.5, "strokeWidth": 0.7},
   "encoding": {"y": {"field": "v", "type": "quantitative", "scale": {"domain": [-4, 103.5], "nice": false, "zero": false}, "axis": {"title": null, "values": [0,25,50,75,100], "labelFont": "Liberation Sans", "labelFontSize": 11.5, "labelFontWeight": "bold", "labelColor": "#4D4D4D", "labelPadding": 2, "tickSize": 3}},
    "color": {"field": "r", "type": "nominal", "scale": {"domain": ["PR","SD","NED1","NED2","PD"], "range": ["#FF0000","#00FF00","#ADD8E6","#0000FF","#FFFFFF"]}, "legend": null}}},
  {"data": {"name": "means"}, "transform": [{"filter": "datum.p=='C2'"}], "mark": {"type": "tick", "orient": "horizontal", "size": 6, "thickness": 2.5, "color": "black", "opacity": 1},
   "encoding": {"y": {"field": "v", "type": "quantitative", "scale": {"domain": [-4, 103.5], "nice": false, "zero": false}, "axis": {"title": null, "values": [0,25,50,75,100], "labelFont": "Liberation Sans", "labelFontSize": 11.5, "labelFontWeight": "bold", "labelColor": "#4D4D4D", "labelPadding": 2, "tickSize": 3}}}}
 ]
},
{"width": 210, "height": 171, "title": {"text": "MAGE-A6₂₇₁₋₂₇₉", "font": "Lato", "fontSize": 15, "fontWeight": "bold", "frame": "group", "offset": -26},
 "encoding": {"x": {"field": "x", "type": "quantitative", "scale": {"domain": [-0.5, 14.5], "nice": false, "zero": false}, "axis": {"title": null, "values": [0,1,2,3,4,5,6,7,8,9,10,11,12,13,14], "labelExpr": "['d0','d43','d89'][datum.value % 3]", "labelAngle": -60, "labelFont": "Liberation Sans", "labelFontSize": 10.5, "labelColor": "#333", "labelPadding": 1, "tickSize": 3, "labelOverlap": false, "labelBound": false, "labelFlush": false}}},
 "layer": [
  {"data": {"name": "seps"}, "mark": {"type": "rule", "color": "#A6A6A6", "strokeDash": [4, 3], "strokeWidth": 1}, "encoding": {}},
  {"data": {"name": "pts"}, "transform": [{"filter": "datum.p=='C3'"}], "mark": {"type": "circle", "size": 50, "opacity": 1, "fillOpacity": 0.66, "stroke": "black", "strokeOpacity": 0.5, "strokeWidth": 0.7},
   "encoding": {"y": {"field": "v", "type": "quantitative", "scale": {"domain": [-4, 103.5], "nice": false, "zero": false}, "axis": {"title": null, "values": [0,25,50,75,100], "labelFont": "Liberation Sans", "labelFontSize": 11.5, "labelFontWeight": "bold", "labelColor": "#4D4D4D", "labelPadding": 2, "tickSize": 3}},
    "color": {"field": "r", "type": "nominal", "scale": {"domain": ["PR","SD","NED1","NED2","PD"], "range": ["#FF0000","#00FF00","#ADD8E6","#0000FF","#FFFFFF"]},
     "legend": {"title": "Response", "orient": "none", "legendX": 182, "legendY": -35, "padding": 0, "titleFont": "Lato", "titleFontSize": 13, "titleFontWeight": "normal", "titleColor": "black", "titlePadding": 2, "labelFont": "Lato", "labelFontSize": 11.5, "labelColor": "black", "labelOffset": 2, "symbolType": "circle", "symbolSize": 80, "symbolStrokeColor": "black", "symbolStrokeWidth": 1.3, "symbolOffset": 6, "rowPadding": 0.5, "symbolOpacity": 1,
      "encode": {"symbols": {"update": {"fillOpacity": {"value": 1}, "stroke": {"value": "black"}, "strokeOpacity": {"value": 1}}}}}}}},
  {"data": {"name": "means"}, "transform": [{"filter": "datum.p=='C3'"}], "mark": {"type": "tick", "orient": "horizontal", "size": 6, "thickness": 2.5, "color": "black", "opacity": 1},
   "encoding": {"y": {"field": "v", "type": "quantitative", "scale": {"domain": [-4, 103.5], "nice": false, "zero": false}, "axis": {"title": null, "values": [0,25,50,75,100], "labelFont": "Liberation Sans", "labelFontSize": 11.5, "labelFontWeight": "bold", "labelColor": "#4D4D4D", "labelPadding": 2, "tickSize": 3}}}}
 ]
}
], "spacing": 5, "resolve": {"legend": {"color": "independent"}}
}
]
},
{"hconcat": [
 {"width": 27, "height": 10, "data": {"values": []}, "mark": "point", "encoding": {}},
 {"width": 629, "height": 10, "data": {"values": [{"t": "Sample Time"}]},
  "layer": [
   {"mark": {"type": "rule", "color": "black", "strokeWidth": 1.5}, "encoding": {"x": {"datum": 0, "type": "quantitative", "scale": {"domain": [0, 1]}, "axis": null}, "x2": {"datum": 1}, "y": {"datum": 0.5, "type": "quantitative", "scale": {"domain": [0, 1]}, "axis": null}}},
   {"mark": {"type": "text", "font": "Lato", "fontSize": 18, "fill": "white", "stroke": "white", "strokeWidth": 14, "baseline": "middle"}, "encoding": {"x": {"datum": 0.5, "type": "quantitative"}, "y": {"datum": 0.5, "type": "quantitative"}, "text": {"field": "t"}}},
   {"mark": {"type": "text", "font": "Lato", "fontSize": 18, "color": "#111", "baseline": "middle"}, "encoding": {"x": {"datum": 0.5, "type": "quantitative"}, "y": {"datum": 0.5, "type": "quantitative"}, "text": {"field": "t"}}}
  ]
 }
], "spacing": 6}
], "spacing": 13
}
], "spacing": 5
}
], "spacing": 25
}
